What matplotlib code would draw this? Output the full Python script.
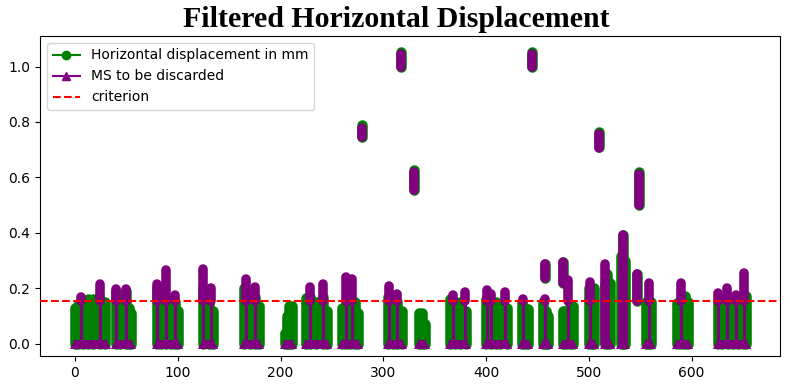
import matplotlib
matplotlib.use("Agg")
import matplotlib.pyplot as plt
from matplotlib.lines import Line2D

CRIT = 0.155

# Green series: vertical runs of points (x, lowest value, highest value)
G_X = [0, 3, 8, 13, 18, 24, 29,
       39.6, 44, 50, 53, 55,
       79.5, 84, 88.5, 93, 97, 100.5,
       124.8, 130, 134.6,
       164.6, 170, 175, 179.3,
       204.3, 206.5, 208.5, 210.8,
       224.4, 229, 235, 241.6, 244.8,
       260, 264, 268, 272, 275,
       279,
       304.2, 309, 313.5, 317.8,
       317, 330.3,
       335, 338, 340.5,
       364.8, 370, 375, 380,
       400, 405, 410, 414, 420,
       434.5, 438, 440.4,
       444.6,
       455.5, 458, 460.4, 457,
       475, 478, 482, 484.8, 475,
       500, 503, 505,
       509.7,
       515.6, 518, 520.4,
       531, 533.4, 535,
       546.4, 548.6, 556, 558.2, 560.6,
       586, 590, 594, 596,
       625.8, 630, 635, 640, 645, 650, 653.4]
G_LO = [0, 0, 0, 0, 0, 0, 0,
        0, 0, 0, 0, 0,
        0, 0, 0, 0, 0, 0,
        0, 0, 0,
        0, 0, 0, 0,
        0, 0, 0, 0,
        0, 0, 0, 0, 0,
        0, 0, 0, 0, 0,
        0.744,
        0, 0, 0, 0,
        1.0, 0.555,
        0, 0, 0,
        0, 0, 0, 0,
        0, 0, 0, 0, 0,
        0, 0, 0,
        1.0,
        0, 0, 0, 0.238,
        0, 0, 0, 0, 0.218,
        0, 0, 0,
        0.71,
        0, 0, 0,
        0, 0, 0,
        0.155, 0.5, 0, 0, 0,
        0, 0, 0, 0,
        0, 0, 0, 0, 0, 0, 0]
G_HI = [0.13, 0.14, 0.155, 0.16, 0.16, 0.16, 0.15,
        0.19, 0.17, 0.19, 0.13, 0.11,
        0.2, 0.15, 0.15, 0.15, 0.15, 0.12,
        0.2, 0.16, 0.118,
        0.2, 0.17, 0.17, 0.136,
        0.04, 0.1, 0.136, 0.136,
        0.166, 0.17, 0.15, 0.17, 0.118,
        0.13, 0.15, 0.15, 0.15, 0.11,
        0.788,
        0.17, 0.15, 0.15, 0.118,
        1.053, 0.627,
        0.112, 0.112, 0.07,
        0.16, 0.15, 0.15, 0.12,
        0.16, 0.15, 0.15, 0.14, 0.13,
        0.15, 0.13, 0.124,
        1.053,
        0.15, 0.12, 0.1, 0.287,
        0.118, 0.12, 0.136, 0.136, 0.295,
        0.2, 0.17, 0.2,
        0.765,
        0.22, 0.25, 0.22,
        0.317, 0.391, 0.3,
        0.253, 0.62, 0.15, 0.15, 0.15,
        0.148, 0.15, 0.172, 0.15,
        0.15, 0.15, 0.15, 0.15, 0.15, 0.15, 0.172]

# Purple series (MS to be discarded): runs above criterion, and whether they connect to zero
P_X = [6, 24, 40, 50, 80, 88.5, 97, 125, 132, 166, 175, 229, 241.6, 264, 270,
       279, 306, 313.5, 317, 330.3, 367.4, 379.4, 401, 405, 418.3, 436, 445,
       457, 457, 475, 480, 501, 509.7, 516.2, 533.4, 546.4, 548.6, 558.2, 590,
       626, 634.6, 643, 651]
P_LO = [0.155, 0.155, 0.155, 0.155, 0.155, 0.155, 0.155, 0.155, 0.155, 0.155, 0.155,
        0.155, 0.155, 0.155, 0.155,
        0.744, 0.155, 0.155, 1.0, 0.555, 0.155, 0.155, 0.155, 0.155, 0.155, 0.155, 1.0,
        0.155, 0.238, 0.218, 0.155, 0.155, 0.705, 0.0, 0.0, 0.155, 0.5, 0.155, 0.155,
        0.155, 0.155, 0.155, 0.155]
P_HI = [0.17, 0.214, 0.196, 0.196, 0.214, 0.265, 0.175, 0.271, 0.202, 0.235, 0.206,
        0.206, 0.217, 0.242, 0.232,
        0.78, 0.208, 0.178, 1.045, 0.62, 0.175, 0.187, 0.193, 0.18, 0.188, 0.16, 1.045,
        0.16, 0.287, 0.295, 0.23, 0.223, 0.757, 0.287, 0.391, 0.253, 0.612, 0.22, 0.22,
        0.182, 0.202, 0.175, 0.256]
P_STEM = [1, 1, 1, 1, 1, 1, 1, 1, 1, 1, 1, 1, 1, 1, 1,
          0, 1, 1, 0, 0, 1, 1, 1, 1, 1, 1, 0,
          1, 0, 0, 1, 1, 0, 0, 0, 0, 0, 1, 1,
          1, 1, 1, 1]

# Zero-valued MS points (x extent of each group)
B_X0 = [0, 39.6, 79.5, 124.8, 164.6, 204.3, 224.4, 260, 304.2, 335, 364.8, 400,
        434.5, 455.5, 475, 500, 515.6, 531, 556, 586, 625.8]
B_X1 = [30, 55, 100.5, 134.6, 179.3, 210.8, 244.8, 275, 317.8, 340.5, 380, 420,
        440.4, 460.4, 484.8, 505, 520.4, 535, 560.6, 596, 653.4]

GREEN = "green"
PURPLE = "purple"
COL_LW = 7.6

fig = plt.figure(figsize=(7.9, 3.9), dpi=100)
ax = fig.add_axes([40 / 790, 1 - 356 / 390, 740 / 790, 320 / 390])

for x, lo, hi in zip(G_X, G_LO, G_HI):
    ax.plot([x, x], [lo, hi], color=GREEN, lw=COL_LW, solid_capstyle="round", zorder=2)

for x0, x1 in zip(B_X0, B_X1):
    ax.plot([x0, x1], [0, 0], color=PURPLE, lw=6.4, solid_capstyle="butt", zorder=3)
    ax.plot([x0, x1], [0, 0], color=PURPLE, lw=0, marker="^", markersize=7,
            markeredgewidth=0, zorder=3)

for x, lo, hi, st in zip(P_X, P_LO, P_HI, P_STEM):
    if st:
        ax.plot([x, x], [0, lo], color=PURPLE, lw=2.2, zorder=4)
    ax.plot([x, x], [lo, hi], color=PURPLE, lw=COL_LW - 0.7, solid_capstyle="round", zorder=4)

ax.axhline(CRIT, color="red", ls="--", lw=1.5, zorder=5)

ax.set_xlim(-34, 686)
ax.set_ylim(-0.044, 1.11)
ax.set_xticks([0, 100, 200, 300, 400, 500, 600])
ax.set_yticks([0.0, 0.2, 0.4, 0.6, 0.8, 1.0])

handles = [
    Line2D([], [], color=GREEN, marker="o", label="Horizontal displacement in mm"),
    Line2D([], [], color=PURPLE, marker="^", label="MS to be discarded"),
    Line2D([], [], color="red", ls="--", label="criterion"),
]
ax.legend(handles=handles, loc="upper left")

fig.suptitle("Filtered Horizontal Displacement", x=0.502, y=0.985, va="top",
             fontsize=21.5, fontweight="bold", family="Liberation Serif")

fig.savefig("out.png", dpi=100)
